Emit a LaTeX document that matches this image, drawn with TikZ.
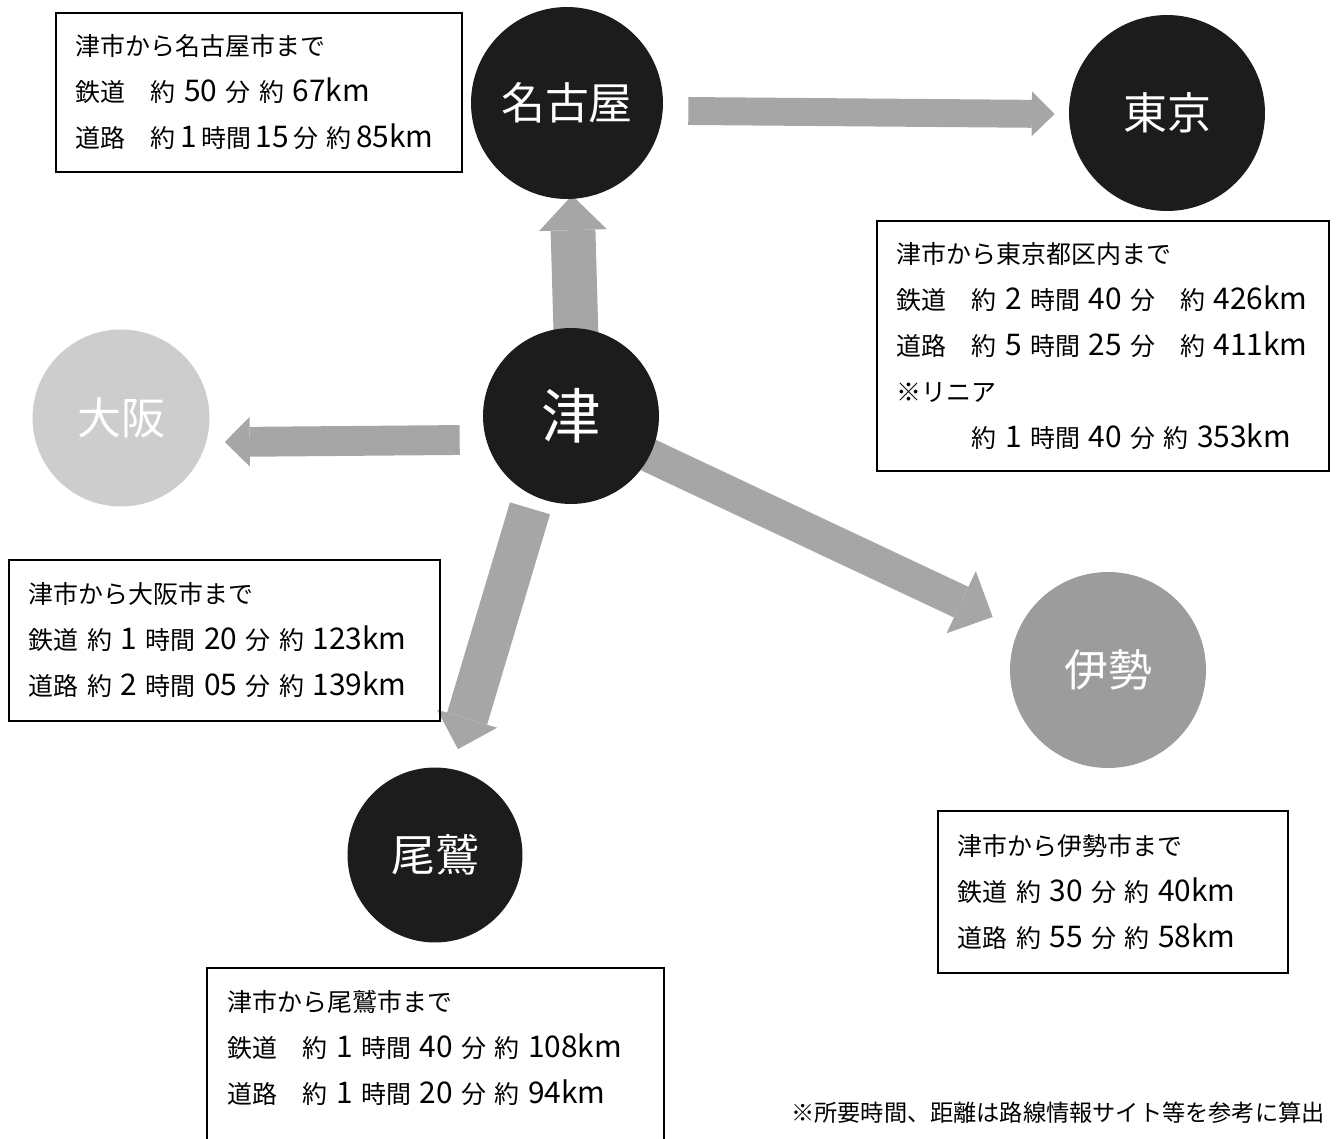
\documentclass[tikz,border=0pt]{standalone}
\usepackage{fontspec}
\setmainfont{Noto Sans CJK JP}
\usetikzlibrary{arrows.meta,calc,backgrounds}
\definecolor{darkc}{HTML}{1C1C1C}
\definecolor{osakac}{HTML}{CDCDCD}
\definecolor{isec}{HTML}{9C9C9C}
\definecolor{arrowc}{HTML}{A6A6A6}
\newcommand\nm[1]{{\fontsize{17pt}{26.1pt}\selectfont #1}}
\newcommand\gp{\hspace{0.34em}}
\newcommand\sgp{\hspace{0.18em}}
\begin{document}
\begin{tikzpicture}[x=0.02cm,y=-0.02cm,
  city/.style={circle, inner sep=0pt, text=white, font=\fontsize{25pt}{25pt}\selectfont},
  darkcity/.style={city, fill=darkc},
  frame/.style={draw=black, line width=1pt, rectangle, inner sep=0pt, inner xsep=0.4cm, align=left, anchor=north west, font=\fontsize{14.2pt}{26.1pt}\selectfont},
  fat/.style n args={3}{draw=arrowc, line width=#1, -{Triangle[width=#2, length=#3, line width=0pt]}},
]
\useasboundingbox (0,0) rectangle (1336,1139);
\clip (0,0) rectangle (1336,1139);

% city circles
\node[darkcity, minimum size=3.84cm] (nagoya) at (567,103) {名古屋};
\node[darkcity, minimum size=3.92cm] (tokyo) at (1167,113) {東京};
\node[darkcity, minimum size=3.52cm, font=\fontsize{34pt}{34pt}\selectfont] (tsu) at (571,416) {津};
\node[city, fill=osakac, minimum size=3.54cm] (osaka) at (121,418) {大阪};
\node[city, fill=isec, minimum size=3.92cm] (ise) at (1108,670) {伊勢};
\node[darkcity, minimum size=3.5cm] (owase) at (435,855) {尾鷲};

% block arrows
\begin{scope}[on background layer]
\draw[fat={15.9pt}{25.5pt}{13pt}] ($(nagoya.east)+(25,8)$) -- ($(tokyo.west)+(-14,1)$);
\draw[fat={25.5pt}{38.6pt}{19.8pt}] ($(tsu.north)+(5,7)$) -- ($(nagoya.south)+(5,-4)$);
\draw[fat={17pt}{28.3pt}{14.2pt}] ($(tsu.west)+(-23,24)$) -- ($(osaka.east)+(15,24)$);
\draw[fat={23.8pt}{35.7pt}{18.1pt}] ($(tsu.south)+(-41,4)$) -- ($(owase.north)+(23,-18)$);
\draw[fat={19.3pt}{39.1pt}{19.8pt}] ($(tsu.east)+(-11,39)$) -- ($(ise.west)+(-17,-53)$);
\end{scope}

% info boxes
\node[frame, minimum width=8.12cm, minimum height=3.18cm, text width=7.32cm] (nagbox) at (55,12)
  {津市から名古屋市まで\\鉄道　約\gp\nm{50}\gp 分\gp 約\gp\nm{67km}\\道路　約\sgp\nm{1}\sgp 時間\sgp\nm{15}\sgp 分\gp 約\sgp\nm{85km}};
\node[frame, minimum width=9.04cm, minimum height=5cm, text width=8.24cm] (tokbox) at (876,220)
  {津市から東京都区内まで\\鉄道　約\gp\nm{2}\gp 時間\gp\nm{40}\gp 分　約\gp\nm{426km}\\道路　約\gp\nm{5}\gp 時間\gp\nm{25}\gp 分　約\gp\nm{411km}\\※リニア\\\hspace*{3em}約\gp\nm{1}\gp 時間\gp\nm{40}\gp 分\gp 約\gp\nm{353km}};
\node[frame, minimum width=8.62cm, minimum height=3.22cm, text width=7.82cm] (osabox) at (8,559)
  {津市から大阪市まで\\鉄道\gp 約\gp\nm{1}\gp 時間\gp\nm{20}\gp 分\gp 約\gp\nm{123km}\\道路\gp 約\gp\nm{2}\gp 時間\gp\nm{05}\gp 分\gp 約\gp\nm{139km}};
\node[frame, minimum width=7cm, minimum height=3.24cm, text width=6.2cm] (isebox) at (937,810)
  {津市から伊勢市まで\\鉄道\gp 約\gp\nm{30}\gp 分\gp 約\gp\nm{40km}\\道路\gp 約\gp\nm{55}\gp 分\gp 約\gp\nm{58km}};
\node[frame, draw=none, minimum width=9.1cm, minimum height=3.16cm, text width=8.3cm] (owabox) at (207,968)
  {津市から尾鷲市まで\\鉄道　約\gp\nm{1}\gp 時間\gp\nm{40}\gp 分\gp 約\gp\nm{108km}\\道路　約\gp\nm{1}\gp 時間\gp\nm{20}\gp 分\gp 約\gp\nm{94km}};
\draw[line width=1pt] ($(owabox.south west)+(0,40)$) -- (owabox.north west) -- (owabox.north east) -- ($(owabox.south east)+(0,40)$);

% footnote
\node[anchor=east, inner sep=0pt, font=\fontsize{13.2pt}{13.2pt}\selectfont] (note) at (1325,1113)
  {※所要時間、距離は路線情報サイト等を参考に算出};
\end{tikzpicture}
\end{document}
